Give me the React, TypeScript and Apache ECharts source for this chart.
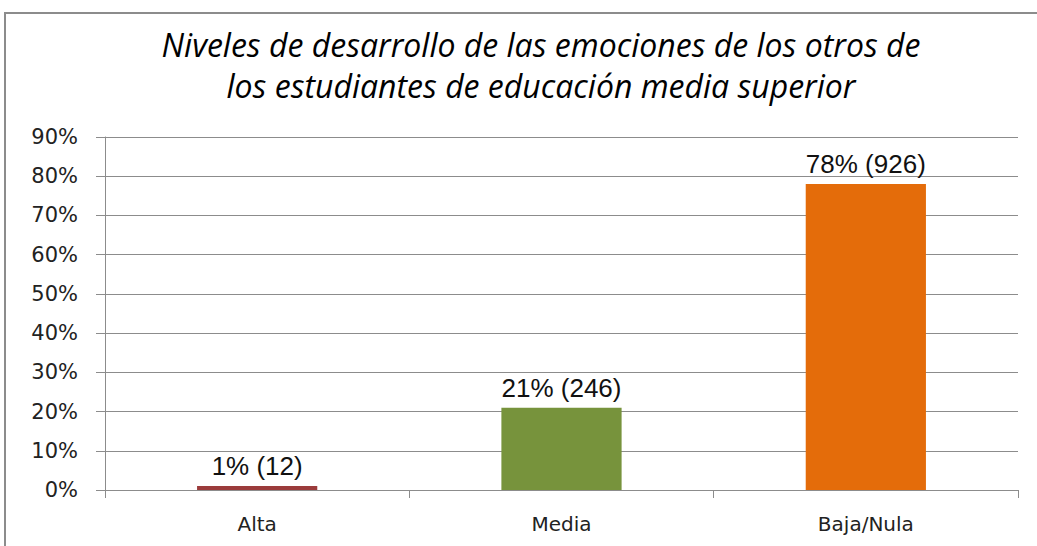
import React, { useEffect, useRef } from "react";
import * as echarts from "echarts";

const categories = ["Alta", "Media", "Baja/Nula"];
const percentages = [1, 21, 78];
const counts = [12, 246, 926];
const barColors = ["#9B3B3B", "#77933C", "#E46C0A"];
const titleText =
  "Niveles de desarrollo de las emociones de los otros de\nlos estudiantes de educación media superior";

export default function App() {
  const ref = useRef<HTMLDivElement>(null);
  useEffect(() => {
    if (!ref.current) return;
    const chart = echarts.init(ref.current, null, { renderer: "svg" });
    chart.setOption({
      animation: false,
      backgroundColor: "#ffffff",
      title: {
        text: titleText,
        left: 536,
        textAlign: "center",
        top: 19,
        textStyle: {
          fontFamily: "'Open Sans', sans-serif",
          fontStyle: "italic",
          fontWeight: "normal",
          fontSize: 32,
          lineHeight: 41,
          color: "#000000",
        },
      },
      graphic: [
        {
          type: "rect",
          shape: { x: 5, y: 13, width: 1050, height: 560 },
          style: { fill: "none", stroke: "#8c8c8c", lineWidth: 2 },
          silent: true,
        },
      ],
      grid: { left: 105, right: 19, top: 137, bottom: 56 },
      xAxis: {
        type: "category",
        data: categories,
        axisLine: { lineStyle: { color: "#8c8c8c", width: 1 } },
        axisTick: { show: true, length: 8, lineStyle: { color: "#8c8c8c" } },
        axisLabel: {
          margin: 24,
          fontFamily: "'DejaVu Sans', sans-serif",
          fontSize: 20,
          color: "#222222",
        },
      },
      yAxis: {
        type: "value",
        min: 0,
        max: 90,
        interval: 10,
        axisLine: { show: true, lineStyle: { color: "#8c8c8c", width: 1 } },
        axisTick: { show: true, length: 9, lineStyle: { color: "#8c8c8c" } },
        splitLine: { lineStyle: { color: "#8c8c8c", width: 1 } },
        axisLabel: {
          formatter: "{value}%",
          margin: 27,
          fontFamily: "'DejaVu Sans', sans-serif",
          fontSize: 21,
          color: "#222222",
        },
      },
      series: [
        {
          type: "bar",
          barWidth: "39.5%",
          data: percentages.map((v, i) => ({
            value: v,
            itemStyle: { color: barColors[i] },
          })),
          label: {
            show: true,
            position: "top",
            distance: 7,
            fontFamily: "'Liberation Sans', Arial, sans-serif",
            fontSize: 26,
            color: "#111111",
            formatter: (p: any) => `${p.value}% (${counts[p.dataIndex]})`,
          },
        },
      ],
    });
    return () => chart.dispose();
  }, []);
  return (
    <div
      ref={ref}
      style={{ position: "fixed", left: 0, top: 0, width: 1037, height: 546 }}
    />
  );
}
